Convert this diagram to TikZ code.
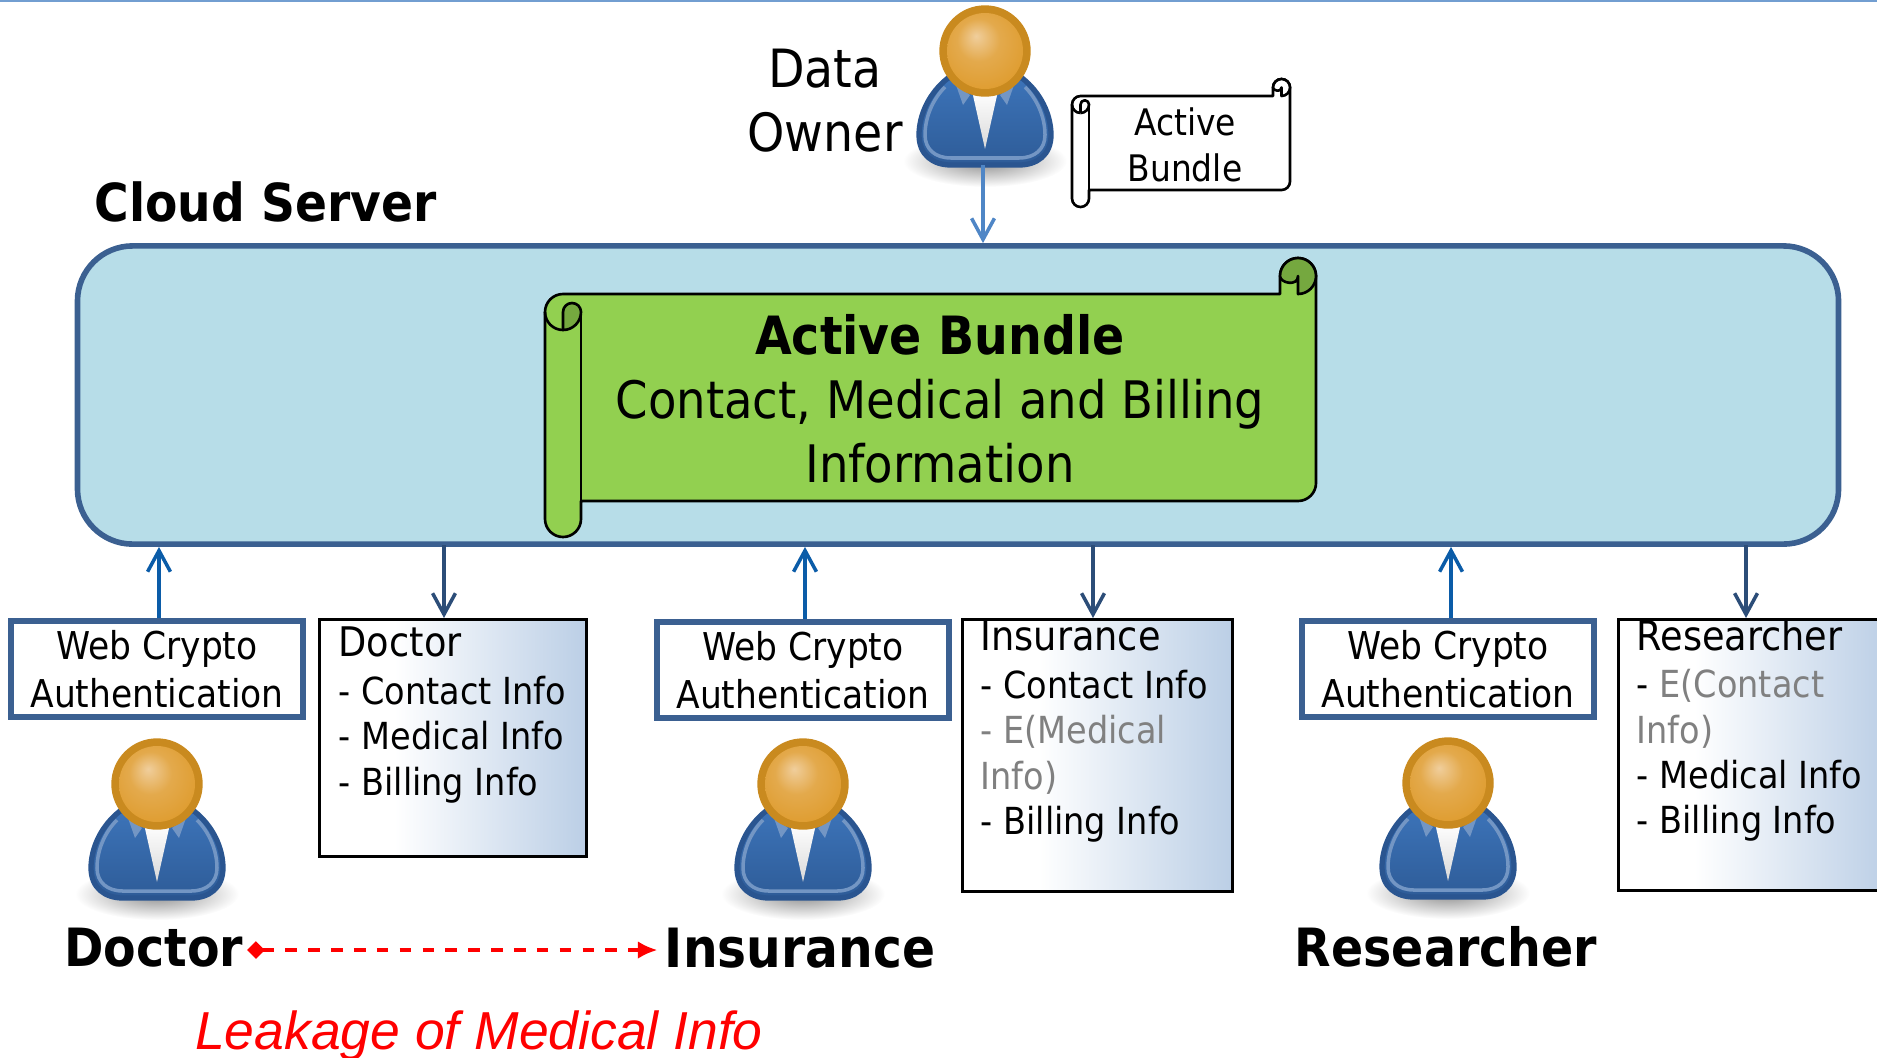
\documentclass[tikz,border=0pt]{standalone}
\usepackage{fontspec}
\setmainfont{DejaVu Sans Condensed}
\newfontfamily\leakfont{Liberation Sans}
\usetikzlibrary{arrows.meta}

\definecolor{serverfill}{HTML}{B7DDE8}
\definecolor{serverline}{HTML}{3B6091}
\definecolor{scrollgreen}{HTML}{92D050}
\definecolor{scrolldark}{HTML}{75A83F}
\definecolor{infoblue}{HTML}{B9CDE5}
\definecolor{ownerarrow}{HTML}{4F86C6}
\definecolor{uparrow}{HTML}{0B5CA8}
\definecolor{downarrow}{HTML}{2C4D78}
\definecolor{headrim}{HTML}{C98A1F}
\definecolor{headlight}{HTML}{F0CE9C}
\definecolor{headtone}{HTML}{DE9A2A}
\definecolor{suittop}{HTML}{3C73B8}
\definecolor{suitlow}{HTML}{2E5C98}
\definecolor{suitline}{HTML}{2A5590}
\definecolor{suitring}{HTML}{7396C4}

\pgfdeclarehorizontalshading{infoshade}{100bp}{color(0bp)=(white); color(39bp)=(white); color(76bp)=(infoblue); color(100bp)=(infoblue)}
\pgfdeclareradialshading{headshade}{\pgfpoint{-6bp}{10bp}}{color(0bp)=(headlight); color(14bp)=(headtone!70!headlight); color(34bp)=(headtone); color(50bp)=(headtone)}

\tikzset{>={Straight Barb[length=6pt,width=6.5pt]}}
\tikzset{
    webbox/.style={draw=serverline, line width=1.5pt, minimum width=2.92cm, minimum height=.96cm, align=center, inner sep=0pt, font=\fontsize{10.9}{13.6}\selectfont},
    infobox/.style={draw=black, line width=.8pt, anchor=north west, shading=infoshade, inner sep=0pt},
    infotext/.style={anchor=north west, align=left, inner sep=0pt, font=\fontsize{10.6}{12.9}\selectfont},
    namelabel/.style={font=\fontsize{15}{18}\selectfont\bfseries, inner sep=2pt},
    pull/.style={->, line width=1pt, color=downarrow},
    push/.style={->, line width=1pt, color=uparrow},
    leak/.style={{Diamond[length=5pt,width=5pt]}-{Latex[length=5.5pt,width=5pt]}, red, line width=.9pt, dash pattern=on 3.3pt off 3.2pt},
    person/.pic={
        \shade[inner color=black!45, outer color=white] (0,110) ellipse [x radius=82, y radius=26];
        \draw[draw=suitline, line width=1.5pt, top color=suittop, bottom color=suitlow] (-37,27) .. controls (-56,42) and (-66,64) .. (-66,84) .. controls (-66,104) and (-52,114) .. (-34,114) -- (34,114) .. controls (52,114) and (66,104) .. (66,84) .. controls (66,64) and (56,42) .. (37,27) -- cycle;
        \draw[suitring, line width=1pt] (-40,36) .. controls (-52,48) and (-60,66) .. (-60,84) .. controls (-60,98) and (-50,107) .. (-34,107) -- (34,107) .. controls (50,107) and (60,98) .. (60,84) .. controls (60,66) and (52,48) .. (40,36);
        \fill[suitring] (-29,34) -- (-15,44) -- (-22,54) -- cycle;
        \fill[suitring] (29,34) -- (15,44) -- (22,54) -- cycle;
        \shade[top color=white, bottom color=black!15] (-13,40) -- (13,40) -- (0,98) -- cycle;
        \draw[headrim, fill=headrim] (0,0) ellipse [x radius=45, y radius=45];
        \shade[shading=headshade] (0,0) ellipse [x radius=38, y radius=38];
        \coordinate (-foot) at (-2,114);
    },
}

% left, right, top, bottom of the sheet, curl radius, fill, curl fill
\newcommand{\scrollsheet}[7]{
    \pgfmathsetmacro\kr{.55*#5}
    \draw[fill=#6, line width=.75pt, line join=round] ({#1+2*#5},#4) -- ({#2-#5},#4) .. controls ({#2-#5+\kr},#4) and (#2,{#4-#5+\kr}) .. (#2,{#4-#5}) -- (#2,{#3-#5}) .. controls (#2,{#3-#5-\kr}) and ({#2-#5+\kr},{#3-2*#5}) .. ({#2-#5},{#3-2*#5}) .. controls ({#2-#5-\kr},{#3-2*#5}) and ({#2-2*#5},{#3-#5-\kr}) .. ({#2-2*#5},{#3-#5}) -- ({#2-2*#5},#3) -- ({#1+#5},#3) .. controls ({#1+#5-\kr},#3) and (#1,{#3+#5-\kr}) .. (#1,{#3+#5}) -- (#1,{#4+#5}) .. controls (#1,{#4+#5+\kr}) and ({#1+#5-\kr},{#4+2*#5}) .. ({#1+#5},{#4+2*#5}) .. controls ({#1+#5+\kr},{#4+2*#5}) and ({#1+2*#5},{#4+#5+\kr}) .. ({#1+2*#5},{#4+#5}) -- cycle;
    \draw[fill=#7, line width=.75pt, line join=round] ({#2-#5},#3) .. controls ({#2-#5+\kr},#3) and (#2,{#3-#5+\kr}) .. (#2,{#3-#5}) .. controls (#2,{#3-#5-\kr}) and ({#2-#5+\kr},{#3-2*#5}) .. ({#2-#5},{#3-2*#5}) .. controls ({#2-#5-\kr},{#3-2*#5}) and ({#2-2*#5},{#3-#5-\kr}) .. ({#2-2*#5},{#3-#5}) .. controls ({#2-2*#5},{#3-.6*#5}) and ({#2-#5},{#3-.4*#5}) .. ({#2-#5},{#3-#5}) -- cycle;
    \draw[line width=.75pt] ({#1+2*#5},#4) -- ({#1+2*#5},{#3+#5});
    \draw[fill=#7, line width=.75pt, line join=round] ({#1+#5},{#3+2*#5}) -- ({#1+#5},{#3+#5}) .. controls ({#1+#5},{#3+#5-\kr/2}) and ({#1+1.5*#5-\kr/2},{#3+.5*#5}) .. ({#1+1.5*#5},{#3+.5*#5}) .. controls ({#1+1.5*#5+\kr/2},{#3+.5*#5}) and ({#1+2*#5},{#3+#5-\kr/2}) .. ({#1+2*#5},{#3+#5}) .. controls ({#1+2*#5},{#3+#5+\kr}) and ({#1+#5+\kr},{#3+2*#5}) .. ({#1+#5},{#3+2*#5});
    \draw[line width=.75pt] (#1,{#3+#5}) .. controls (#1,{#3+#5+\kr}) and ({#1+#5-\kr},{#3+2*#5}) .. ({#1+#5},{#3+2*#5});
}

\begin{document}
\begin{tikzpicture}[x=.01cm, y=-.01cm]
    \useasboundingbox (0,0) rectangle (1877,1057);
    \clip (0,0) rectangle (1877,1057);
    \draw[ownerarrow!80, line width=.5pt] (0,1) -- (1877,1);

    \node (server) [draw=serverline, fill=serverfill, line width=1.6pt, rounded corners=.55cm, minimum width=17.6cm, minimum height=2.98cm] at (958,395) {};
    \node (servername) [anchor=west, inner sep=0pt, font=\fontsize{14.9}{18}\selectfont\bfseries] at (94,202) {Cloud Server};

    \scrollsheet{545}{1316}{294}{501}{18}{scrollgreen}{scrolldark}
    \node (bundle) [align=center, inner sep=0pt, font=\fontsize{14.7}{18.2}\selectfont] at (940,399) {\fontsize{15}{18.2}\selectfont\textbf{Active Bundle}\\Contact, Medical and Billing\\Information};

    \scrollsheet{1072}{1290}{96}{190}{8.5}{white}{white}
    \node (bundlecopy) [align=center, inner sep=0pt, font=\fontsize{10.4}{12.9}\selectfont] at (1185,145) {Active\\Bundle};

    \pic (ownerman) at (985,51) {person};
    \node (ownername) [align=center, inner sep=0pt, font=\fontsize{15}{18.2}\selectfont] at (825,101) {Data\\Owner};

    \node (webdoctor) [webbox] at (157,669) {Web Crypto\\Authentication};
    \node (webinsurance) [webbox] at (803,670) {Web Crypto\\Authentication};
    \node (webresearcher) [webbox] at (1448,669) {Web Crypto\\Authentication};

    \pic (doctorman) at (157,784) {person};
    \pic (insuranceman) at (803,784) {person};
    \pic (researcherman) at (1448,783) {person};

    \node (infodoctor) [infobox, minimum width=2.67cm, minimum height=2.37cm] at (318,618) {};
    \node (infoinsurance) [infobox, minimum width=2.70cm, minimum height=2.72cm] at (961,618) {};
    \node (inforesearcher) [infobox, minimum width=2.71cm, minimum height=2.71cm] at (1617,618) {};

    \node (textdoctor) [infotext] at (338,626) {{\fontsize{11.6}{13}\selectfont Doctor}\\[.7pt]- Contact Info\\- Medical Info\\- Billing Info};
    \node (textinsurance) [infotext] at (980,620) {{\fontsize{11.6}{13}\selectfont Insurance}\\[.7pt]- Contact Info\\\textcolor{gray}{- E(Medical}\\\textcolor{gray}{Info)}\\- Billing Info};
    \node (textresearcher) [infotext] at (1636,619) {{\fontsize{11.6}{13}\selectfont Researcher}\\[.5pt]- \textcolor{gray}{E(Contact}\\\textcolor{gray}{Info)}\\- Medical Info\\- Billing Info};

    \coordinate (tapdoctor) at (444,545);
    \coordinate (tapinsurance) at (1093,545);
    \coordinate (tapresearcher) at (1746,545);

    \draw[->, line width=1pt, color=ownerarrow] (ownerman-foot) -- (ownerman-foot |- server.north);
    \draw[push] ([xshift=.02cm]webdoctor.north) -- ([xshift=.02cm]webdoctor.north |- server.south);
    \draw[push] ([xshift=.02cm]webinsurance.north) -- ([xshift=.02cm]webinsurance.north |- server.south);
    \draw[push] ([xshift=.03cm]webresearcher.north) -- ([xshift=.03cm]webresearcher.north |- server.south);
    \draw[pull] (tapdoctor) -- (tapdoctor |- infodoctor.north);
    \draw[pull] (tapinsurance) -- (tapinsurance |- infoinsurance.north);
    \draw[pull] (tapresearcher) -- (tapresearcher |- inforesearcher.north);

    \node (namedoctor) [namelabel] at (154,948) {Doctor};
    \node (nameinsurance) [namelabel, font=\fontsize{15.4}{18}\selectfont\bfseries] at (800,948) {Insurance};
    \node (nameresearcher) [namelabel] at (1446,947) {Researcher};
    \draw[leak] ([xshift=-.04cm,yshift=-.02cm]namedoctor.east) -- ([yshift=-.02cm]nameinsurance.west);

    \node (leaktext) [red, inner sep=0pt, font=\leakfont\itshape\fontsize{15.2}{18}\selectfont] at (479,1036) {Leakage of Medical Info};
\end{tikzpicture}
\end{document}
